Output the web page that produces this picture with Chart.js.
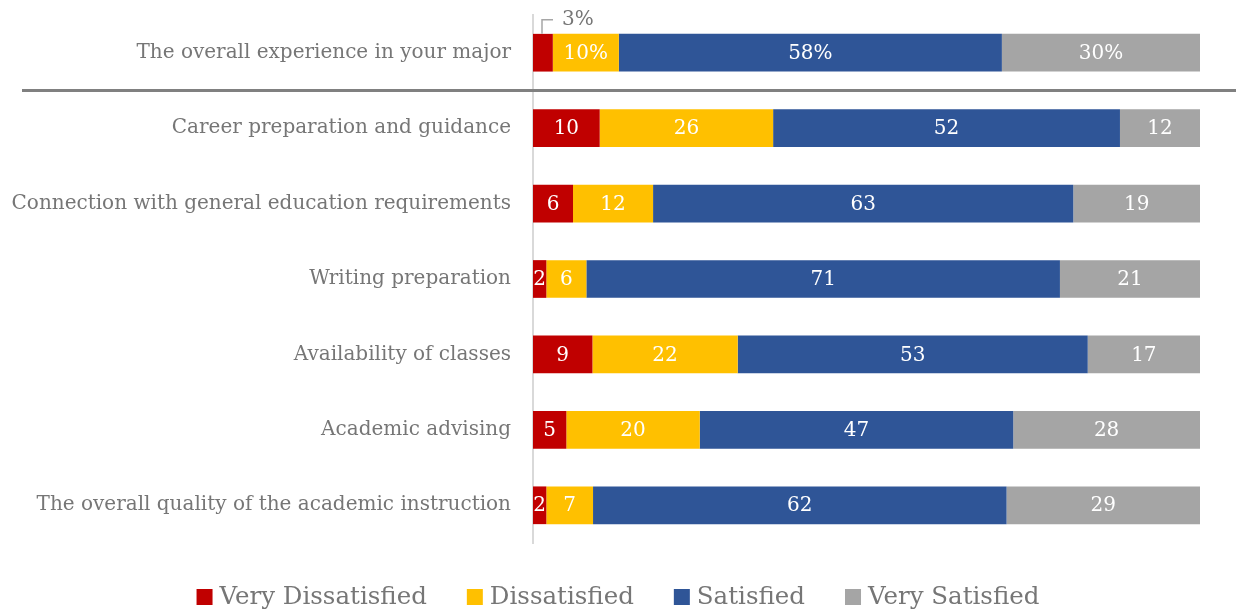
<!DOCTYPE html>
<html>
<head>
<meta charset="UTF-8">
<script src="https://cdn.jsdelivr.net/npm/chart.js"></script>
<style>
  body { margin: 0; background: #fff; }
  #wrap { width: 1236px; height: 611px; }
</style>
</head>
<body>
<div id="wrap"><canvas id="chart"></canvas></div>
<script>
// Data
const categories = [
    'The overall experience in your major',
    'Career preparation and guidance',
    'Connection with general education requirements',
    'Writing preparation',
    'Availability of classes',
    'Academic advising',
    'The overall quality of the academic instruction'
];
const seriesNames = ['Very Dissatisfied', 'Dissatisfied', 'Satisfied', 'Very Satisfied'];
const veryDissatisfied = [3, 10, 6, 2, 9, 5, 2];
const dissatisfied = [10, 26, 12, 6, 22, 20, 7];
const satisfied = [58, 52, 63, 71, 53, 47, 62];
const verySatisfied = [30, 12, 19, 21, 17, 28, 29];
const colors = ['#C00000', '#FFC000', '#2F5597', '#A5A5A5'];

const FONT = 'DejaVu Serif';
const GREY = '#767676';

const raw = [veryDissatisfied, dissatisfied, satisfied, verySatisfied];
// each row is drawn as a 100% bar
const rowTotals = categories.map((c, i) => raw.reduce((s, arr) => s + arr[i], 0));

const datasets = raw.map((arr, k) => ({
    label: seriesNames[k],
    data: arr.map((v, i) => v / rowTotals[i] * 100),
    rawValues: arr,
    backgroundColor: colors[k],
    borderWidth: 0,
    barPercentage: 0.5,
    categoryPercentage: 1
}));

// labels in the bars, separator line under the first row, legend at the bottom
const labelPlugin = {
    id: 'labels',
    afterDatasetsDraw(chart) {
        const ctx = chart.ctx;
        ctx.save();
        ctx.font = '20px "' + FONT + '"';
        ctx.textAlign = 'center';
        ctx.textBaseline = 'middle';
        chart.data.datasets.forEach((ds, k) => {
            chart.getDatasetMeta(k).data.forEach((bar, i) => {
                const v = ds.rawValues[i];
                const txt = i === 0 ? v + '%' : String(v);
                if (i === 0 && k === 0) {
                    // small slice: label above with a leader line
                    const lx = bar.base + 9;
                    const top = bar.y - bar.height / 2;
                    ctx.strokeStyle = '#a6a6a6';
                    ctx.lineWidth = 1.5;
                    ctx.beginPath();
                    ctx.moveTo(lx, top);
                    ctx.lineTo(lx, top - 14);
                    ctx.lineTo(lx + 11, top - 14);
                    ctx.stroke();
                    ctx.fillStyle = GREY;
                    ctx.textAlign = 'left';
                    ctx.fillText(txt, lx + 20, top - 14);
                    ctx.textAlign = 'center';
                    return;
                }
                ctx.fillStyle = '#ffffff';
                ctx.fillText(txt, (bar.x + bar.base) / 2, bar.y + 1);
            });
        });
        const y = chart.scales.y;
        const sepY = (y.getPixelForValue(0) + y.getPixelForValue(1)) / 2;
        ctx.strokeStyle = '#808080';
        ctx.lineWidth = 3;
        ctx.beginPath();
        ctx.moveTo(22, sepY);
        ctx.lineTo(chart.width, sepY);
        ctx.stroke();

        // legend
        ctx.font = '24.5px "' + FONT + '"';
        ctx.textAlign = 'left';
        const box = 16, gap = 7, spacing = 40;
        const widths = seriesNames.map(n => box + gap + ctx.measureText(n).width);
        const total = widths.reduce((a, b) => a + b, 0) + spacing * (seriesNames.length - 1);
        let x = (chart.width - total) / 2;
        const ly = 597;
        seriesNames.forEach((n, k) => {
            ctx.fillStyle = colors[k];
            ctx.fillRect(x, ly - box / 2, box, box);
            ctx.fillStyle = GREY;
            ctx.fillText(n, x + box + gap, ly + 1);
            x += widths[k] + spacing;
        });
        ctx.restore();
    }
};

new Chart(document.getElementById('chart'), {
    type: 'bar',
    data: { labels: categories, datasets: datasets },
    options: {
        indexAxis: 'y',
        responsive: true,
        maintainAspectRatio: false,
        animation: false,
        layout: { padding: { left: 0, right: 36, top: 15, bottom: 68 } },
        scales: {
            x: { stacked: true, min: 0, max: 100, display: false },
            y: {
                stacked: true,
                grid: { display: false, drawTicks: false },
                border: { display: true, color: '#d9d9d9', width: 2 },
                ticks: { color: GREY, font: { family: FONT, size: 20 }, padding: 22 },
                afterFit(scale) {
                    scale.width = 533;
                    scale.paddingTop = 0;
                    scale.paddingBottom = 0;
                }
            }
        },
        plugins: {
            tooltip: { enabled: false },
            legend: { display: false }
        }
    },
    plugins: [labelPlugin]
});
</script>
</body>
</html>
